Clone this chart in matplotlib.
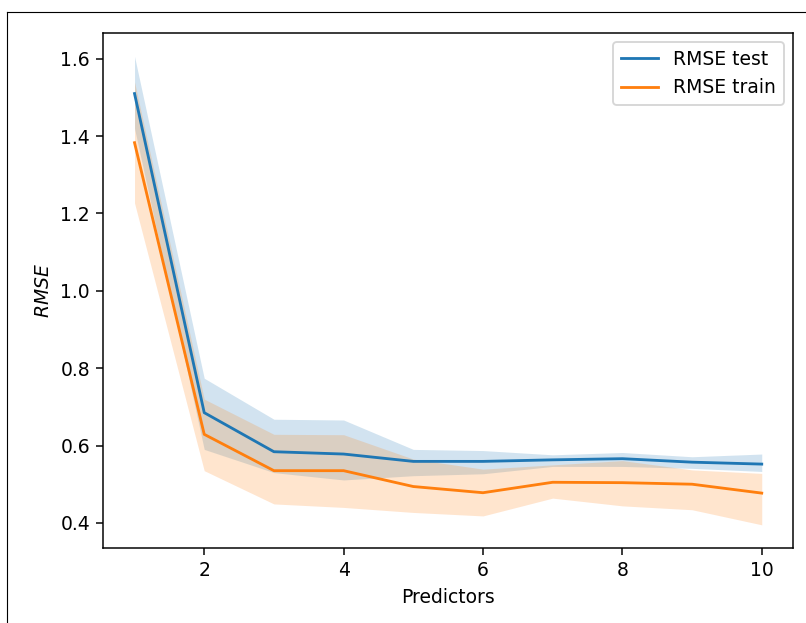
import matplotlib
matplotlib.use('Agg')
import matplotlib.pyplot as plt
from matplotlib.lines import Line2D

# Dados
predictors = [1, 2, 3, 4, 5, 6, 7, 8, 9, 10]

rmse_test = [1.51, 0.685, 0.584, 0.578, 0.559, 0.559, 0.563, 0.566, 0.557, 0.552]
rmse_test_low = [1.42, 0.59, 0.53, 0.511, 0.522, 0.527, 0.546, 0.546, 0.541, 0.533]
rmse_test_high = [1.606, 0.774, 0.668, 0.666, 0.59, 0.587, 0.576, 0.582, 0.571, 0.578]

rmse_train = [1.383, 0.629, 0.535, 0.535, 0.494, 0.478, 0.505, 0.504, 0.50, 0.477]
rmse_train_low = [1.227, 0.535, 0.449, 0.44, 0.427, 0.418, 0.464, 0.444, 0.434, 0.395]
rmse_train_high = [1.54, 0.72, 0.629, 0.628, 0.565, 0.539, 0.55, 0.561, 0.537, 0.528]

# figura em dpi 135 para escalar fontes e linhas como na captura
dpi = 135
fig = plt.figure(figsize=(806 / dpi, 623 / dpi), dpi=dpi)
ax = fig.add_axes([0.128, 0.120, 0.856, 0.827])

ax.plot(predictors, rmse_test, color='tab:blue', label='RMSE test')
ax.fill_between(predictors, rmse_test_low, rmse_test_high,
                color='tab:blue', alpha=0.2, lw=0)
ax.plot(predictors, rmse_train, color='tab:orange', label='RMSE train')
ax.fill_between(predictors, rmse_train_low, rmse_train_high,
                color='tab:orange', alpha=0.2, lw=0)

ax.set_xlabel('Predictors')
ax.set_ylabel('$RMSE$')
ax.legend(loc='upper right')

# moldura da captura
x0 = 7 / 806
y0 = 1 - 12 / 623
fig.add_artist(Line2D([x0, x0], [0, y0], color='black', lw=0.6))
fig.add_artist(Line2D([x0, 1], [y0, y0], color='black', lw=0.6))

plt.savefig('out.png', dpi=dpi)
